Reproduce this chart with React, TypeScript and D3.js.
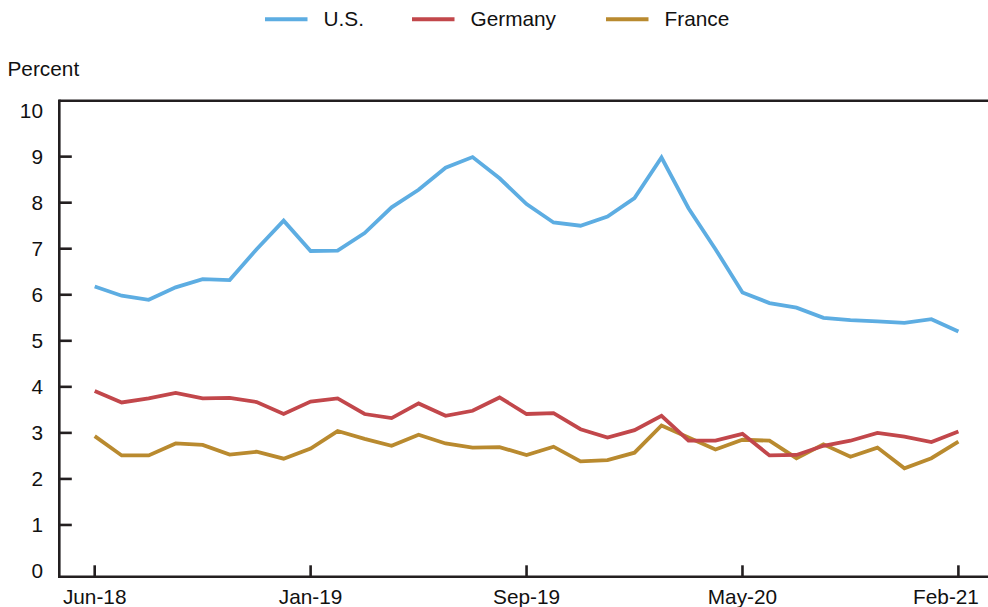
import React from "react";
import * as d3 from "d3";

const months: string[] = Array.from({ length: 33 }, (_, i) => `m${i}`);
const tickIndex: number[] = [0, 8, 16, 24, 32];
const tickLabels: string[] = ["Jun-18", "Jan-19", "Sep-19", "May-20", "Feb-21"];
const yTicks: number[] = [0, 1, 2, 3, 4, 5, 6, 7, 8, 9, 10];

const usValues: number[] = [
  6.18, 5.98, 5.89, 6.16, 6.34, 6.32, 6.99, 7.61, 6.95, 6.96,
  7.34, 7.90, 8.28, 8.76, 8.99, 8.53, 7.97, 7.57, 7.50, 7.70,
  8.10, 8.98, 7.88, 6.99, 6.05, 5.82, 5.72, 5.50, 5.45, 5.42,
  5.39, 5.47, 5.20,
];
const germanyValues: number[] = [
  3.91, 3.66, 3.75, 3.87, 3.75, 3.76, 3.67, 3.41, 3.68, 3.75,
  3.41, 3.32, 3.64, 3.37, 3.48, 3.77, 3.41, 3.43, 3.08, 2.90,
  3.06, 3.37, 2.83, 2.83, 2.98, 2.51, 2.52, 2.72, 2.83, 3.00,
  2.92, 2.80, 3.03,
];
const franceValues: number[] = [
  2.93, 2.51, 2.51, 2.77, 2.74, 2.53, 2.59, 2.44, 2.66, 3.04,
  2.87, 2.72, 2.96, 2.77, 2.68, 2.69, 2.52, 2.70, 2.38, 2.41,
  2.57, 3.16, 2.90, 2.64, 2.85, 2.83, 2.45, 2.75, 2.48, 2.68,
  2.23, 2.45, 2.81,
];

const seriesNames: string[] = ["U.S.", "Germany", "France"];
const seriesColors: string[] = ["#5dade2", "#c2474b", "#b98a2f"];
const seriesData: number[][] = [usValues, germanyValues, franceValues];

const W = 988;
const H = 607;
const FONT = "'Liberation Sans', Arial, sans-serif";
const AXIS = "#231f20";
const FS = 20.8;

export default function App() {
  const x = d3.scaleLinear().domain([0, months.length - 1]).range([94.7, 958.4]);
  const y = d3.scaleLinear().domain([0, 10]).range([571, 110.6]);
  const line = d3
    .line<number>()
    .x((_, i) => x(i))
    .y((d) => y(d));

  const frameLeft = 59.3;
  const frameTop = 100.8;
  const frameBottom = 576.8;

  const legendX = [265, 412, 606];

  return (
    <svg
      width={W}
      height={H}
      style={{ position: "absolute", left: 0, top: 0, background: "#fff" }}
      fontFamily={FONT}
    >
      <rect width={W} height={H} fill="#fff" />
      {/* legend */}
      {seriesNames.map((name, i) => (
        <g key={name}>
          <line
            x1={legendX[i]}
            x2={legendX[i] + 42.5}
            y1={19.3}
            y2={19.3}
            stroke={seriesColors[i]}
            strokeWidth={4}
          />
          <text x={legendX[i] + 58.5} y={26.3} fontSize={FS} fill="#111">
            {name}
          </text>
        </g>
      ))}
      <text x={7.5} y={76} fontSize={FS} fill="#111">
        Percent
      </text>

      {/* frame */}
      <line x1={frameLeft} x2={W} y1={frameTop} y2={frameTop} stroke={AXIS} strokeWidth={2.6} />
      <line x1={frameLeft} x2={W} y1={frameBottom} y2={frameBottom} stroke={AXIS} strokeWidth={2.6} />
      <line x1={frameLeft} x2={frameLeft} y1={frameTop - 1.3} y2={frameBottom + 1.3} stroke={AXIS} strokeWidth={2.6} />

      {/* y ticks */}
      {yTicks.map((t) => (
        <g key={t}>
          {t > 0 && t < 10 && (
            <line x1={frameLeft} x2={frameLeft + 12.5} y1={y(t)} y2={y(t)} stroke={AXIS} strokeWidth={2.6} />
          )}
          <text x={43} y={y(t)} dy="0.36em" textAnchor="end" fontSize={FS} fill="#111">
            {t}
          </text>
        </g>
      ))}

      {/* x ticks */}
      {tickIndex.map((idx, k) => {
        const px = x(idx);
        const lx = Math.min(px, W - 9 - 33);
        return (
          <g key={idx}>
            <line x1={px} x2={px} y1={frameBottom} y2={frameBottom - 11.5} stroke={AXIS} strokeWidth={2.6} />
            <text x={lx} y={603.5} textAnchor="middle" fontSize={FS} fill="#111">
              {tickLabels[k]}
            </text>
          </g>
        );
      })}

      {/* series, drawn France first so US on top */}
      {[2, 1, 0].map((i) => (
        <path
          key={seriesNames[i]}
          d={line(seriesData[i]) || ""}
          fill="none"
          stroke={seriesColors[i]}
          strokeWidth={3.8}
          strokeLinejoin="miter"
        />
      ))}
    </svg>
  );
}
